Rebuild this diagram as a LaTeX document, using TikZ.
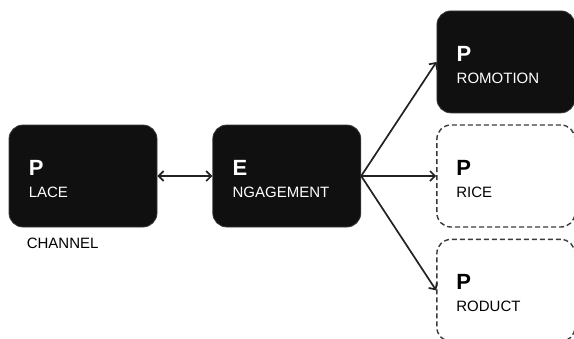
\documentclass[tikz,border=0pt]{standalone}
\usepackage{fontspec}
\setmainfont{Liberation Sans}
\usetikzlibrary{positioning,arrows.meta}

\definecolor{boxfill}{HTML}{101010}
\definecolor{boxline}{HTML}{3A3A3A}
\definecolor{arrowcol}{HTML}{222222}

\tikzset{
  blk/.style={rectangle, rounded corners=14pt, fill=boxfill, draw=boxline, line width=0.8pt,
    minimum width=148pt, minimum height=102pt, inner sep=0pt},
  opt/.style={rectangle, rounded corners=14pt, draw=boxline, dash pattern=on 5pt off 3pt,
    line width=1.4pt, minimum width=138pt, minimum height=102pt, inner sep=0pt},
  initial/.style={anchor=base west, inner sep=0pt, font=\fontsize{22}{24}\selectfont\bfseries},
  word/.style={anchor=base west, inner sep=0pt, font=\fontsize{15}{17}\selectfont},
  arr/.style={draw=arrowcol, line width=1.7pt, -{Straight Barb[length=5pt,width=10pt]}},
}

\begin{document}
\begin{tikzpicture}[x=1pt, y=-1pt]
  \useasboundingbox (0,0) rectangle (574,338);

  \node[blk] (place) at (83,176) {};
  \node[blk, right=55pt of place] (engage) {};
  \node[opt, right=75pt of engage] (price) {};
  \node[blk, minimum width=138pt, above=11pt of price] (promo) {};
  \node[opt, below=11pt of price] (product) {};

  \node[initial, white] (placeP) at ([shift={(20,51)}]place.north west) {P};
  \node[word, white] (placeW) at ([shift={(20,73)}]place.north west) {LACE};
  \node[word] (channel) at ([shift={(18,21)}]place.south west) {CHANNEL};

  \node[initial, white] (engageE) at ([shift={(20,51)}]engage.north west) {E};
  \node[word, white] (engageW) at ([shift={(20,73)}]engage.north west) {NGAGEMENT};

  \node[initial, white] (promoP) at ([shift={(20,51)}]promo.north west) {P};
  \node[word, white] (promoW) at ([shift={(20,73)}]promo.north west) {ROMOTION};

  \node[initial] (priceP) at ([shift={(20,51)}]price.north west) {P};
  \node[word] (priceW) at ([shift={(20,73)}]price.north west) {RICE};

  \node[initial] (productP) at ([shift={(20,51)}]product.north west) {P};
  \node[word] (productW) at ([shift={(20,73)}]product.north west) {RODUCT};

  \draw[arr, {Straight Barb[length=5pt,width=10pt]}-{Straight Barb[length=5pt,width=10pt]}] (place) -- (engage);
  \draw[arr] (engage.east) -- (promo.west);
  \draw[arr] (engage.east) -- (price.west);
  \draw[arr] (engage.east) -- (product.west);

\end{tikzpicture}
\end{document}
